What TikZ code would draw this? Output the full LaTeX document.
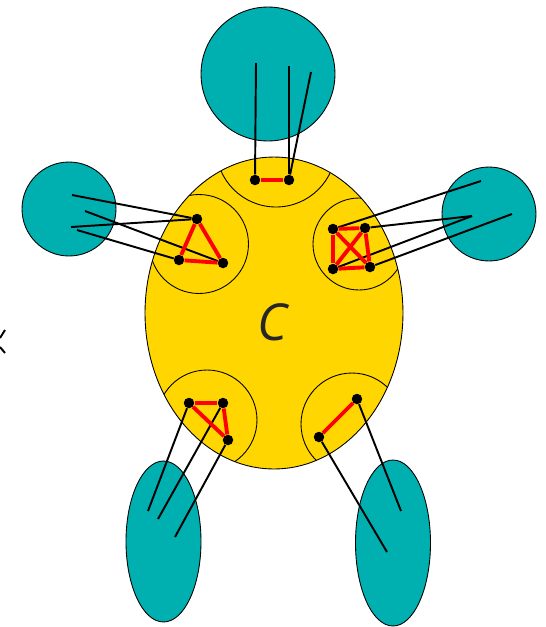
\documentclass[tikz,border=0pt]{standalone}
\usepackage{fontspec}
\newfontfamily\labelfont{Open Sans}
\definecolor{clteal}{RGB}{0,175,175}
\definecolor{clyellow}{RGB}{255,214,0}
\begin{document}
\begin{tikzpicture}[x=0.02cm,y=-0.02cm,
  blob/.style={fill=clteal,draw=black,line width=0.5pt},
  dot/.style={circle,fill=black,inner sep=0pt,minimum size=0.21cm},
  link/.style={line width=1.1pt,black},
  edge/.style={line width=2.2pt,red}]
\useasboundingbox (0,0) rectangle (546,627);
\draw[blob] (268,74) circle[radius=1.34cm];
\draw[blob] (69,209) circle[radius=0.94cm];
\draw[blob] (489,214) circle[radius=0.94cm];
\draw[blob] (163.5,541.5) ellipse[x radius=0.75cm,y radius=1.61cm];
\draw[blob] (393,543) ellipse[x radius=0.75cm,y radius=1.66cm];
\fill[clyellow] (274,313) ellipse[x radius=2.58cm,y radius=3.12cm];
\begin{scope}
\clip (274,313) ellipse[x radius=2.58cm,y radius=3.12cm];
\foreach \cx/\cy/\r in {276/147/1.2,199/244/0.99,359/244/0.92,207/420/1.0,352/424/1.02}
  \draw[line width=0.5pt] (\cx,\cy) circle[radius=\r cm];
\end{scope}
\draw[line width=0.5pt] (274,313) ellipse[x radius=2.58cm,y radius=3.12cm];
\node[text=black!85,font=\labelfont\itshape\fontsize{29}{30}\selectfont] (lbl) at (272,322) {C};
\draw[link] (5,330) -- (0,338) (0,347) -- (5,353);

\node[dot] (t1) at (255,180) {};
\node[dot] (t2) at (289,180) {};
\node[dot] (l1) at (197,219) {};
\node[dot] (l2) at (179,260) {};
\node[dot] (l3) at (223,263) {};
\node[dot] (r1) at (333,229) {};
\node[dot] (r2) at (365,228) {};
\node[dot] (r3) at (333,269) {};
\node[dot] (r4) at (370,267) {};
\node[dot] (b1) at (189,403) {};
\node[dot] (b2) at (223,403) {};
\node[dot] (b3) at (228,440) {};
\node[dot] (c1) at (357,399) {};
\node[dot] (c2) at (319,437) {};

\coordinate (tA) at (256,63);
\coordinate (tB) at (289,66);
\coordinate (tC) at (311,72);
\coordinate (lA) at (72,195);
\coordinate (lB) at (71,227);
\coordinate (lC) at (85,211);
\coordinate (lD) at (77,230);
\coordinate (rA) at (481,181);
\coordinate (rB) at (472,216);
\coordinate (rC) at (512,214);
\coordinate (bA) at (148,511);
\coordinate (bB) at (158,519);
\coordinate (bC) at (175,537);
\coordinate (cA) at (401,511);
\coordinate (cB) at (387,552);

\foreach \a/\b in {t1/tA,t2/tB,t2/tC,l1/lA,l1/lB,l3/lC,l2/lD,r1/rA,r2/rB,r3/rB,r4/rC,b1/bA,b2/bB,b3/bC,c1/cA,c2/cB}
  \draw[link] (\a) -- (\b);
\foreach \a/\b in {t1/t2,l1/l2,l2/l3,l3/l1,r1/r2,r1/r3,r2/r4,r3/r4,r1/r4,r2/r3,b1/b2,b2/b3,b1/b3,c1/c2}
  \draw[edge] (\a) -- (\b);
\end{tikzpicture}
\end{document}
